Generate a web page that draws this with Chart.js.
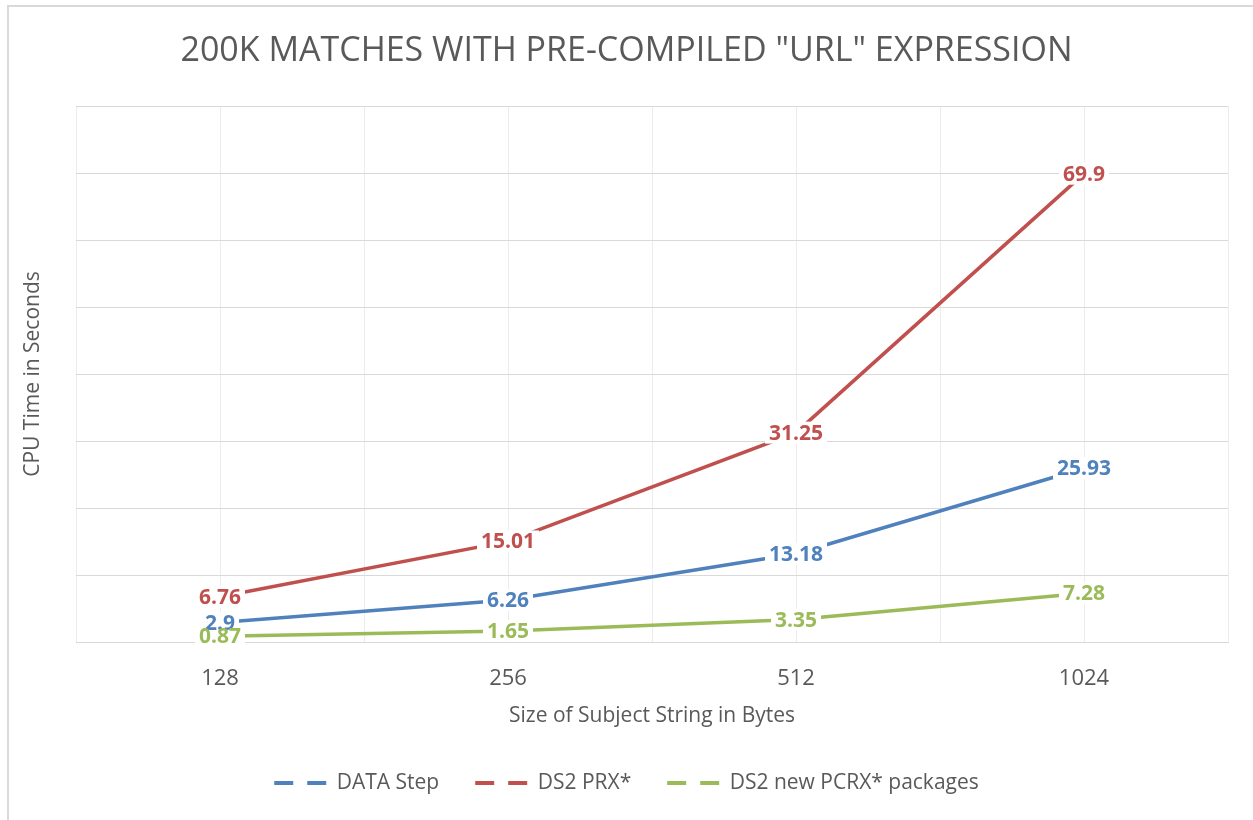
<!DOCTYPE html>
<html lang="en">
<head>
<meta charset="UTF-8">
<title>200K Matches with Pre-Compiled URL Expression</title>
<script src="https://cdn.jsdelivr.net/npm/chart.js@4/dist/chart.umd.min.js"></script>
<style>
  html, body { margin: 0; padding: 0; background: #fff; }
  #frame {
    position: absolute; left: 7px; top: 5px; width: 1250px; height: 820px;
    border-top: 2px solid #d9d9d9; border-left: 2px solid #d9d9d9;
  }
  #wrap { position: absolute; left: 0; top: 0; width: 1253px; height: 820px; }
</style>
</head>
<body>
<div id="frame"></div>
<div id="wrap"><canvas id="chart" width="1253" height="820"></canvas></div>
<script>
// Chart values
const categories = ["128", "256", "512", "1024"];
const dataStep = [2.9, 6.26, 13.18, 25.93];
const ds2Prx = [6.76, 15.01, 31.25, 69.9];
const ds2Pcrx = [0.87, 1.65, 3.35, 7.28];
const seriesNames = ["DATA Step", "DS2 PRX*", "DS2 new PCRX* packages"];
const seriesColors = ["#4F81BD", "#C0504D", "#9BBB59"];

const FONT = "'Open Sans', 'Noto Sans', sans-serif";

function toPoints(values) {
  return values.map((v, i) => ({ x: i, y: v }));
}

// value labels drawn on each point, with a white box behind them (Excel style)
const valueLabels = {
  id: "valueLabels",
  afterDatasetsDraw(chart) {
    const ctx = chart.ctx;
    ctx.save();
    ctx.font = "bold 21px " + FONT;
    ctx.textAlign = "center";
    ctx.textBaseline = "middle";
    chart.data.datasets.forEach((ds, di) => {
      const meta = chart.getDatasetMeta(di);
      meta.data.forEach((pt, i) => {
        const w = ctx.measureText(String(ds.data[i].y)).width;
        ctx.fillStyle = "#fff";
        ctx.fillRect(pt.x - w / 2 - 4, pt.y - 11, w + 8, 22);
      });
    });
    chart.data.datasets.forEach((ds, di) => {
      const meta = chart.getDatasetMeta(di);
      meta.data.forEach((pt, i) => {
        ctx.fillStyle = ds.borderColor;
        ctx.fillText(String(ds.data[i].y), pt.x, pt.y + 1);
      });
    });
    ctx.restore();
  }
};

const allSeries = [dataStep, ds2Prx, ds2Pcrx];

new Chart(document.getElementById("chart"), {
  type: "line",
  data: {
    datasets: allSeries.map((vals, i) => ({
      label: seriesNames[i],
      data: toPoints(vals),
      borderColor: seriesColors[i],
      backgroundColor: seriesColors[i],
      borderWidth: 3.5,
      pointRadius: 0,
      tension: 0,
      fill: false
    }))
  },
  options: {
    responsive: false,
    animation: false,
    layout: { padding: { left: 0, right: 0, top: 0, bottom: 16.5 } },
    plugins: {
      tooltip: { enabled: false },
      title: {
        display: true,
        text: '200K MATCHES WITH PRE-COMPILED "URL" EXPRESSION',
        color: "#595959",
        font: { family: FONT, size: 34, weight: "normal" },
        padding: { top: 30.6, bottom: 34.6 }
      },
      legend: {
        position: "bottom",
        labels: {
          color: "#595959",
          font: { family: FONT, size: 21 },
          usePointStyle: true,
          pointStyleWidth: 52,
          boxHeight: 21,
          padding: 36,
          generateLabels(chart) {
            return chart.data.datasets.map((ds, i) => ({
              text: ds.label,
              fillStyle: ds.borderColor,
              strokeStyle: ds.borderColor,
              lineWidth: 4,
              lineDash: [19, 14],
              pointStyle: "line",
              fontColor: "#595959",
              datasetIndex: i
            }));
          }
        }
      }
    },
    scales: {
      x: {
        type: "linear",
        min: -0.5,
        max: 3.5,
        border: { display: true, color: "#d9d9d9", width: 1 },
        grid: { color: "#ececec", drawTicks: false },
        ticks: {
          stepSize: 0.5,
          autoSkip: false,
          maxRotation: 0,
          padding: 24,
          color: "#595959",
          font: { family: FONT, size: 22 },
          callback: (v) => Number.isInteger(v) ? categories[v] : ""
        },
        title: {
          display: true,
          text: "Size of Subject String in Bytes",
          color: "#595959",
          font: { family: FONT, size: 21 },
          padding: { top: 0, bottom: 7.9 }
        },
        afterFit(scale) { scale.height = 94.5; }
      },
      y: {
        min: 0,
        max: 80,
        border: { display: false },
        grid: { color: "#d9d9d9", drawTicks: false },
        ticks: { display: false, stepSize: 10 },
        title: {
          display: true,
          text: "CPU Time in Seconds",
          color: "#595959",
          font: { family: FONT, size: 21 },
          padding: { top: 20, bottom: 0 }
        },
        afterFit(scale) { scale.width = 76; }
      },
      // empty right-hand spacer so the plot ends where the original does
      yRight: {
        position: "right",
        min: 0,
        max: 80,
        border: { display: false },
        grid: { display: false, drawTicks: false },
        ticks: { display: false },
        afterFit(scale) { scale.width = 25; }
      }
    }
  },
  plugins: [valueLabels]
});
</script>
</body>
</html>
